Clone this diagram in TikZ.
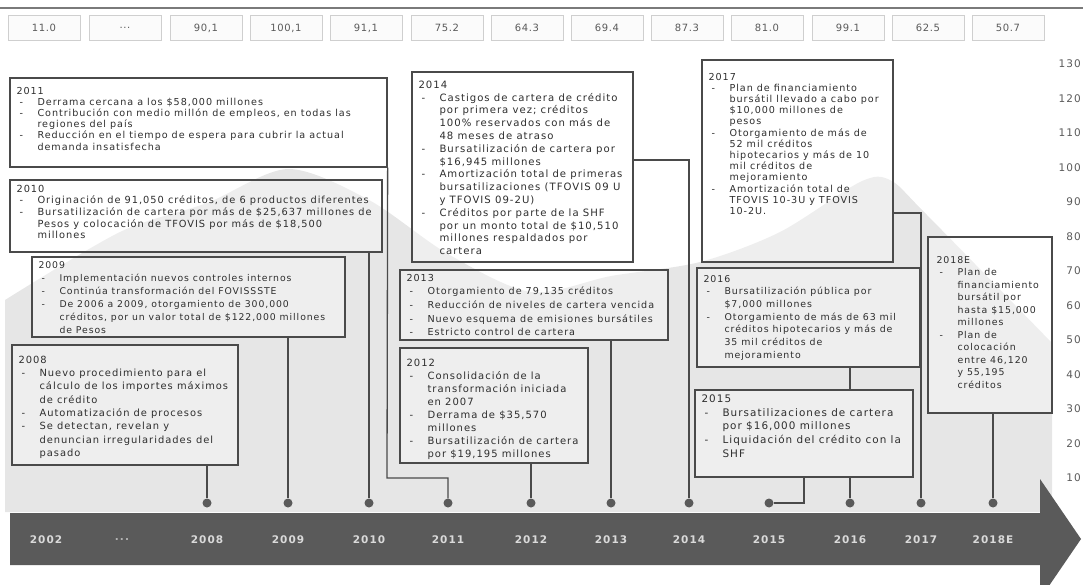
\documentclass[tikz,border=0pt]{standalone}
\usepackage{fontspec}
\setmainfont{DejaVu Sans}[LetterSpace=10]
\newfontfamily\valfont{DejaVu Sans}[LetterSpace=6]
\usetikzlibrary{fit,calc}
\definecolor{boxline}{HTML}{4A4A4A}
\definecolor{txt}{HTML}{2E2E2E}
\definecolor{barc}{HTML}{5A5A5A}
\definecolor{areac}{HTML}{E6E6E6}
\definecolor{valtxt}{HTML}{5A5A5A}
\definecolor{valline}{HTML}{CFCFCF}
\definecolor{valfill}{HTML}{FBFBFB}
\definecolor{yrtxt}{HTML}{DADADA}
\definecolor{topline}{HTML}{7A7A7A}
\newcommand\dl{\makebox[21pt][l]{\hspace{3pt}-}}
\newcommand\ct{\makebox[21pt]{}}
\tikzset{
  evbox/.style={draw=boxline, line width=1.3pt, fill=white, fill opacity=0.35, inner sep=0pt},
  evtxt/.style={anchor=north west, inner sep=0pt, align=left, text=txt},
  conn/.style={draw=boxline, line width=1.3pt},
  tdot/.style={circle, fill=barc, inner sep=0pt, minimum size=9pt},
  valbox/.style={draw=valline, fill=valfill, line width=0.8pt, minimum width=72pt, minimum height=25pt, inner sep=0pt, font=\valfont\fontsize{10}{12}\selectfont, text=valtxt},
  yr/.style={font=\bfseries\fontsize{10.5}{12}\selectfont, text=yrtxt},
  ax/.style={font=\fontsize{10.5}{12}\selectfont, text=valtxt, anchor=east, inner sep=0pt},
}
\begin{document}
\begin{tikzpicture}[x=1pt,y=-1pt]
\useasboundingbox (0,0) rectangle (1083,585);
\clip (0,0) rectangle (1083,585);
% background area
\fill[areac] plot[smooth,tension=0.5] coordinates {(5,300) (120,232) (207,203) (288,169) (369,200) (448,254) (531,292) (611,276) (700,262) (780,232) (860,182) (890,180) (925,213) (1052,343)} -- (1052,512) -- (5,512) -- cycle;
% top rule
\draw[topline, line width=1.5pt] (0,8) -- (1083,8);
% value boxes
\node[valbox] (v2002) at (44,28) {11.0};
\node[valbox] (vgap) at (125,28) {...};
\node[valbox] (v2008) at (206,28) {90,1};
\node[valbox] (v2009) at (286,28) {100,1};
\node[valbox] (v2010) at (366,28) {91,1};
\node[valbox] (v2011) at (447,28) {75.2};
\node[valbox] (v2012) at (527,28) {64.3};
\node[valbox] (v2013) at (607,28) {69.4};
\node[valbox] (v2014) at (687,28) {87.3};
\node[valbox] (v2015) at (767,28) {81.0};
\node[valbox] (v2016) at (848,28) {99.1};
\node[valbox] (v2017) at (928,28) {62.5};
\node[valbox] (v2018) at (1008,28) {50.7};
% axis labels
\foreach \v in {10,20,...,130} \node[ax] (ax\v) at (1081,{64+(130-\v)*3.45}) {\v};
% timeline bar
\fill[barc] (10,513) -- (1040,513) -- (1040,479) -- (1081,539) -- (1040,599) -- (1040,565) -- (10,565) -- cycle;
\node[yr] (y2002) at (46,540) {2002};
\node[yr, text=yrtxt!70!barc] (ygap) at (122,540) {...};
\node[yr] (y2008) at (207,540) {2008};
\node[yr] (y2009) at (288,540) {2009};
\node[yr] (y2010) at (369,540) {2010};
\node[yr] (y2011) at (448,540) {2011};
\node[yr] (y2012) at (531,540) {2012};
\node[yr] (y2013) at (611,540) {2013};
\node[yr] (y2014) at (689,540) {2014};
\node[yr] (y2015) at (769,540) {2015};
\node[yr] (y2016) at (850,540) {2016};
\node[yr] (y2017) at (921,540) {2017};
\node[yr] (y2018) at (993,540) {2018E};
% dots
\node[tdot] (d2008) at (207,503) {};
\node[tdot] (d2009) at (288,503) {};
\node[tdot] (d2010) at (369,503) {};
\node[tdot] (d2011) at (448,503) {};
\node[tdot] (d2012) at (531,503) {};
\node[tdot] (d2013) at (611,503) {};
\node[tdot] (d2014) at (689,503) {};
\node[tdot] (d2015) at (769,503) {};
\node[tdot] (d2016) at (850,503) {};
\node[tdot] (d2017) at (921,503) {};
\node[tdot] (d2018) at (993,503) {};
% event boxes
\node[evbox, fit={(10,78) (387,167)}] (b2011) {};
\node[evbox, fit={(10,180) (382,252)}] (b2010) {};
\node[evbox, fit={(32,257) (345,337)}] (b2009) {};
\node[evbox, fit={(12,345) (238,465)}] (b2008) {};
\node[evbox, fit={(412,72) (633,262)}] (b2014) {};
\node[evbox, fit={(400,270) (668,340)}] (b2013) {};
\node[evbox, fit={(400,348) (588,463)}] (b2012) {};
\node[evbox, fit={(702,60) (893,262)}] (b2017) {};
\node[evbox, fit={(697,268) (920,367)}] (b2016) {};
\node[evbox, fit={(695,390) (913,477)}] (b2015) {};
\node[evbox, fit={(928,237) (1052,413)}] (b2018) {};
% connectors
\coordinate (k2011) at (387,478);
\coordinate (k2014) at (689,160);
\coordinate (k2015) at (804,503);
\coordinate (k2017) at (921,213);
\draw[conn] (b2008.south -| d2008) -- (d2008);
\draw[conn] (b2009.south -| d2009) -- (d2009);
\draw[conn] (b2010.south -| d2010) -- (d2010);
\draw[conn] (b2011.south east) -- (k2011) -| (d2011);
\draw[conn] (b2012.south -| d2012) -- (d2012);
\draw[conn] (b2013.south -| d2013) -- (d2013);
\draw[conn] (k2014 -| b2014.east) -- (k2014) -- (d2014);
\draw[conn] (k2015 |- b2015.south) -- (k2015) -- (d2015);
\draw[conn] (b2016.south -| d2016) -- (b2015.north -| d2016);
\draw[conn] (b2015.south -| d2016) -- (d2016);
\draw[conn] (k2017 -| b2017.east) -- (k2017) -- (d2017);
\draw[conn] (b2018.south -| d2018) -- (d2018);
% texts
\node[evtxt, font=\fontsize{9.6}{11.2}\selectfont] (t2011) at ($(b2011.north west)+(7,9.5)$) {2011\\
\dl Derrama cercana a los \$58,000 millones\\
\dl Contribución con medio millón de empleos, en todas las\\
\ct regiones del país\\
\dl Reducción en el tiempo de espera para cubrir la actual\\
\ct demanda insatisfecha};
\node[evtxt, font=\fontsize{9.8}{11.6}\selectfont] (t2010) at ($(b2010.north west)+(7,5.4)$) {2010\\
\dl Originación de 91,050 créditos, de 6 productos diferentes\\
\dl Bursatilización de cartera por más de \$25,637 millones de\\
\ct Pesos y colocación de TFOVIS por más de \$18,500\\
\ct millones};
\node[evtxt, font=\fontsize{9.3}{13}\selectfont] (t2009) at ($(b2009.north west)+(7,4.6)$) {2009\\
\dl Implementación nuevos controles internos\\
\dl Continúa transformación del FOVISSSTE\\
\dl De 2006 a 2009, otorgamiento de 300,000\\
\ct créditos, por un valor total de \$122,000 millones\\
\ct de Pesos};
\node[evtxt, font=\fontsize{9.9}{13.3}\selectfont] (t2008) at ($(b2008.north west)+(7,11.4)$) {2008\\
\dl Nuevo procedimiento para el\\
\ct cálculo de los importes máximos\\
\ct de crédito\\
\dl Automatización de procesos\\
\dl Se detectan, revelan y\\
\ct denuncian irregularidades del\\
\ct pasado};
\node[evtxt, font=\fontsize{10.1}{12.8}\selectfont] (t2014) at ($(b2014.north west)+(7,9.3)$) {2014\\
\dl Castigos de cartera de crédito\\
\ct por primera vez; créditos\\
\ct 100\% reservados con más de\\
\ct 48 meses de atraso\\
\dl Bursatilización de cartera por\\
\ct \$16,945 millones\\
\dl Amortización total de primeras\\
\ct bursatilizaciones (TFOVIS 09 U\\
\ct y TFOVIS 09-2U)\\
\dl Créditos por parte de la SHF\\
\ct por un monto total de \$10,510\\
\ct millones respaldados por\\
\ct cartera};
\node[evtxt, font=\fontsize{9.6}{13.7}\selectfont] (t2013) at ($(b2013.north west)+(7,4.5)$) {2013\\
\dl Otorgamiento de 79,135 créditos\\
\dl Reducción de niveles de cartera vencida\\
\dl Nuevo esquema de emisiones bursátiles\\
\dl Estricto control de cartera};
\node[evtxt, font=\fontsize{10.0}{13.1}\selectfont] (t2012) at ($(b2012.north west)+(7,11.3)$) {2012\\
\dl Consolidación de la\\
\ct transformación iniciada\\
\ct en 2007\\
\dl Derrama de \$35,570\\
\ct millones\\
\dl Bursatilización de cartera\\
\ct por \$19,195 millones};
\node[evtxt, font=\fontsize{9.6}{11.2}\selectfont] (t2017) at ($(b2017.north west)+(7,13.5)$) {2017\\
\dl Plan de financiamiento\\
\ct bursátil llevado a cabo por\\
\ct \$10,000 millones de\\
\ct pesos\\
\dl Otorgamiento de más de\\
\ct 52 mil créditos\\
\ct hipotecarios y más de 10\\
\ct mil créditos de\\
\ct mejoramiento\\
\dl Amortización total de\\
\ct TFOVIS 10-3U y TFOVIS\\
\ct 10-2U.};
\node[evtxt, font=\fontsize{9.4}{12.7}\selectfont] (t2016) at ($(b2016.north west)+(7,7.5)$) {2016\\
\dl Bursatilización pública por\\
\ct \$7,000 millones\\
\dl Otorgamiento de más de 63 mil\\
\ct créditos hipotecarios y más de\\
\ct 35 mil créditos de\\
\ct mejoramiento};
\node[evtxt, font=\fontsize{10.4}{13.7}\selectfont] (t2015) at ($(b2015.north west)+(7,5.2)$) {2015\\
\dl Bursatilizaciones de cartera\\
\ct por \$16,000 millones\\
\dl Liquidación del crédito con la\\
\ct SHF};
\node[evtxt, font=\fontsize{9.4}{12.5}\selectfont] (t2018) at ($(b2018.north west)+(9,19.5)$) {2018E\\
\dl Plan de\\
\ct financiamiento\\
\ct bursátil por\\
\ct hasta \$15,000\\
\ct millones\\
\dl Plan de\\
\ct colocación\\
\ct entre 46,120\\
\ct y 55,195\\
\ct créditos};
\end{tikzpicture}
\end{document}
